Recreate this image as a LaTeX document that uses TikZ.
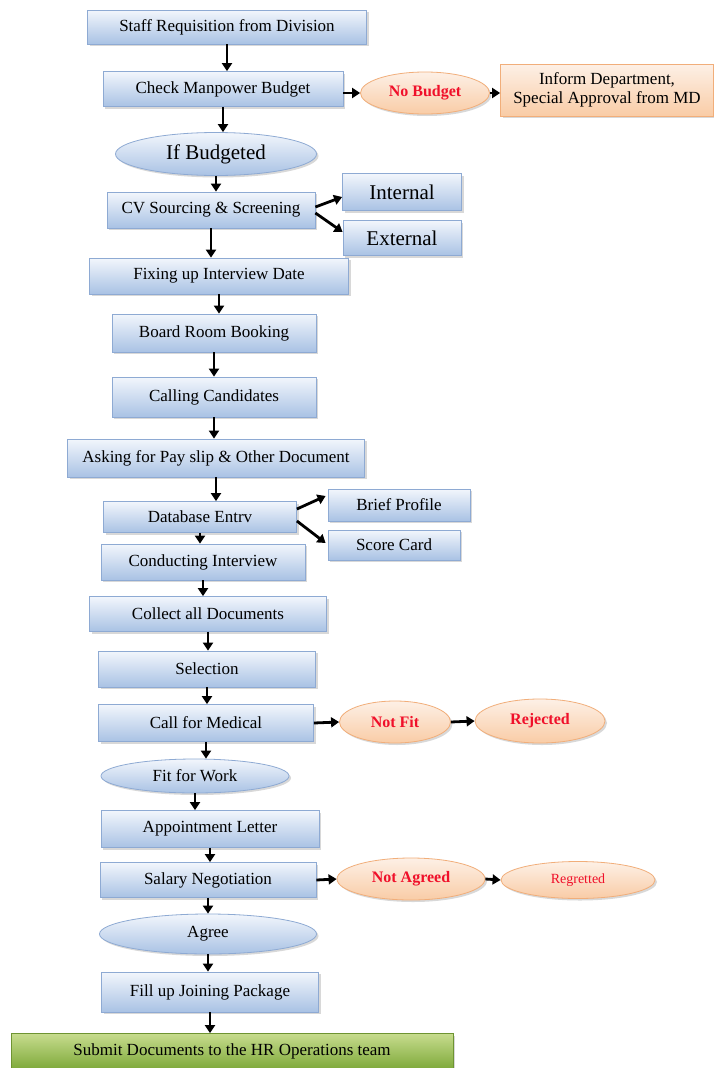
\documentclass[tikz,border=0pt]{standalone}
\usepackage{fontspec}
\setmainfont{Liberation Serif}
\usetikzlibrary{arrows.meta,shapes.geometric,shadows}
\definecolor{bluetop}{HTML}{F2F6FC}
\definecolor{bluebot}{HTML}{A9C2E4}
\definecolor{blueline}{HTML}{8EAAD3}
\definecolor{ortop}{HTML}{FDF0E6}
\definecolor{orbot}{HTML}{F9CCA6}
\definecolor{orline}{HTML}{F1AE7A}
\definecolor{grtop}{HTML}{C7DC8E}
\definecolor{grbot}{HTML}{7FAA3B}
\definecolor{grline}{HTML}{6E9432}
\definecolor{redtxt}{HTML}{F0102A}
\tikzset{
  bluebox/.style={rectangle, draw=blueline, line width=0.8pt, top color=bluetop, bottom color=bluebot,
    drop shadow={opacity=0.3, shadow xshift=2pt, shadow yshift=-2pt},
    font=\fontsize{17}{19}\selectfont, inner sep=0pt, align=center},
  blueell/.style={ellipse, draw=blueline, line width=0.8pt, top color=bluetop, bottom color=bluebot,
    drop shadow={opacity=0.3, shadow xshift=2pt, shadow yshift=-2pt},
    font=\fontsize{17}{19}\selectfont, inner sep=0pt, align=center},
  orbox/.style={rectangle, draw=orline, line width=0.8pt, top color=ortop, bottom color=orbot,
    drop shadow={opacity=0.3, shadow xshift=2pt, shadow yshift=-2pt},
    font=\fontsize{17}{19}\selectfont, inner sep=0pt, align=center},
  orell/.style={ellipse, draw=orline, line width=0.8pt, top color=ortop, bottom color=orbot,
    drop shadow={opacity=0.3, shadow xshift=2pt, shadow yshift=-2pt},
    font=\fontsize{16}{18}\selectfont\bfseries, text=redtxt, inner sep=0pt, align=center},
  grbox/.style={rectangle, draw=grline, line width=0.8pt, top color=grtop, bottom color=grbot,
    drop shadow={opacity=0.3, shadow xshift=2pt, shadow yshift=-2pt},
    font=\fontsize{17}{19}\selectfont, inner sep=0pt, align=center},
  arr/.style={line width=2.8pt, -{Triangle[length=8pt,width=10pt]}},
}
\begin{document}
\begin{tikzpicture}[x=1pt,y=-1pt]
\useasboundingbox[fill=white] (0,0) rectangle (714,1068);
% main column
\node[bluebox, minimum width=279pt, minimum height=34pt] (n1) at (227,27) {Staff Requisition from Division};
\node[bluebox, minimum width=240pt, minimum height=35pt] (n2) at (223,89) {Check Manpower Budget};
\node[orell, minimum width=129pt, minimum height=42pt] (nb) at (425,93) {No Budget};
\node[orbox, minimum width=213pt, minimum height=52pt] (inf) at (607,90) {Inform Department,\\Special Approval from MD};
\node[blueell, minimum width=201pt, minimum height=43pt, font=\fontsize{21}{23}\selectfont] (n3) at (216,154) {If Budgeted};
\node[bluebox, minimum width=208pt, minimum height=36pt] (n4) at (211,210) {CV Sourcing \& Screening};
\node[bluebox, minimum width=119pt, minimum height=37pt, font=\fontsize{21}{23}\selectfont] (int) at (402,192) {Internal};
\node[bluebox, minimum width=118pt, minimum height=35pt, font=\fontsize{21}{23}\selectfont] (ext) at (402,238) {External};
\node[bluebox, minimum width=259pt, minimum height=36pt] (n5) at (219,276) {Fixing up Interview Date};
\node[bluebox, minimum width=204pt, minimum height=38pt] (n6) at (214,333) {Board Room Booking};
\node[bluebox, minimum width=204pt, minimum height=40pt] (n7) at (214,397) {Calling Candidates};
\node[bluebox, minimum width=297pt, minimum height=38pt] (n8) at (216,458) {Asking for Pay slip \& Other Document};
\node[bluebox, minimum width=193pt, minimum height=31pt] (n9) at (200,517) {Database Entrv};
\node[bluebox, minimum width=142pt, minimum height=32pt] (bp) at (399,505) {Brief Profile};
\node[bluebox, minimum width=132pt, minimum height=30pt] (sc) at (394,545) {Score Card};
\node[bluebox, minimum width=204pt, minimum height=36pt] (n10) at (203,562) {Conducting Interview};
\node[bluebox, minimum width=237pt, minimum height=35pt] (n11) at (208,614) {Collect all Documents};
\node[bluebox, minimum width=217pt, minimum height=36pt] (n12) at (207,669) {Selection};
\node[bluebox, minimum width=215pt, minimum height=37pt] (n13) at (206,723) {Call for Medical};
\node[orell, minimum width=111pt, minimum height=42pt] (nf) at (395,722) {Not Fit};
\node[orell, minimum width=130pt, minimum height=44pt] (rej) at (540,721) {Rejected};
\node[blueell, minimum width=188pt, minimum height=34pt] (n14) at (195,776) {Fit for Work};
\node[bluebox, minimum width=218pt, minimum height=37pt] (n15) at (210,829) {Appointment Letter};
\node[bluebox, minimum width=216pt, minimum height=35pt] (n16) at (208,880) {Salary Negotiation};
\node[orell, minimum width=148pt, minimum height=42pt] (na) at (411,879) {Not Agreed};
\node[orell, minimum width=154pt, minimum height=37pt, font=\fontsize{14}{16}\selectfont] (reg) at (578,880) {Regretted};
\node[blueell, minimum width=217pt, minimum height=40pt] (n17) at (208,934) {Agree};
\node[bluebox, minimum width=217pt, minimum height=40pt] (n18) at (210,992) {Fill up Joining Package};
\node[grbox, minimum width=442pt, minimum height=35pt] (n19) at (232,1051) {Submit Documents to the HR Operations team};
% vertical arrows
\foreach \a/\b in {n1/n2,n2/n3,n3/n4,n4/n5,n5/n6,n6/n7,n7/n8,n8/n9,n9/n10,n10/n11,n11/n12,n12/n13,n13/n14,n14/n15,n15/n16,n16/n17,n17/n18,n18/n19}
  \draw[arr] (\a.south) -- (\a.south |- \b.north);
% side arrows
\draw[arr] (n2.east |- nb.west) -- (nb.west);
\draw[arr] (nb.east) -- (inf.west |- nb.east);
\draw[arr] ([yshift=3pt]n4.east) -- ([yshift=-5pt]int.west);
\draw[arr] ([yshift=-3pt]n4.east) -- ([yshift=6pt]ext.west);
\draw[arr] ([yshift=8pt]n9.east) -- ([xshift=-2pt,yshift=9pt]bp.west);
\draw[arr] ([yshift=-4pt]n9.east) -- ([xshift=-2pt,yshift=2pt]sc.west);
\draw[arr] (n13.east) -- (nf.west);
\draw[arr] (nf.east) -- (rej.west);
\draw[arr] (n16.east) -- (na.west);
\draw[arr] (na.east) -- (reg.west);
\end{tikzpicture}
\end{document}
